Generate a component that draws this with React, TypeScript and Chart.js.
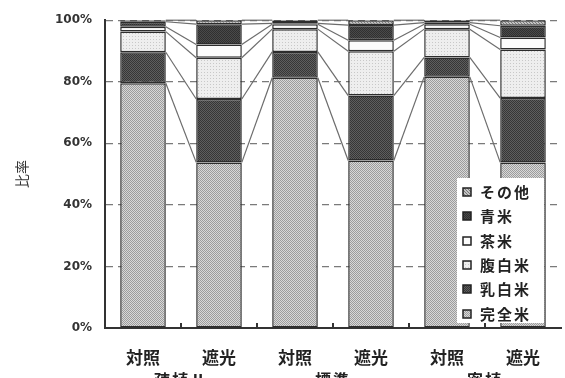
import { useEffect, useRef } from 'react';
import { Chart, registerables } from 'chart.js';

Chart.register(...registerables);

// Treatment under each bar, and the planting group under each pair
const categories = ['対照', '遮光', '対照', '遮光', '対照', '遮光'];
const groups = ['疎植Ⅱ', '標準', '密植'];

// Share of each grain class (%), stacked bottom to top
const seriesNames = ['完全米', '乳白米', '腹白米', '茶米', '青米', 'その他'];
const kanzenmai = [79.5, 53.8, 81.3, 54.4, 81.6, 53.8];
const nyuhakumai = [10.1, 20.6, 8.4, 21.1, 6.3, 20.9];
const fukuhakumai = [6.7, 13.4, 7.4, 14.4, 9.2, 15.8];
const chamai = [1.6, 4.3, 1.6, 3.6, 1.6, 3.9];
const aomai = [1.6, 6.6, 0.3, 4.9, 0.5, 3.8];
const sonota = [0.5, 1.3, 1.0, 1.6, 0.8, 1.8];

const yMin = 0;
const yMax = 100;
const yStep = 20;

const seriesValues = [kanzenmai, nyuhakumai, fukuhakumai, chamai, aomai, sonota];

const JP = '"Noto Sans CJK JP", "Noto Sans", sans-serif';

// small repeating tiles for the stippled fills: [size, background, dot colour, dot cells]
type Tile = { size: number; bg: string; fg: string; dots: [number, number][] };
const tiles: Tile[] = [
  { size: 2, bg: '#d8d8d8', fg: '#9c9c9c', dots: [[0, 0], [1, 1]] },
  { size: 2, bg: '#5e5e5e', fg: '#363636', dots: [[0, 0], [1, 1]] },
  { size: 3, bg: '#eeeeee', fg: '#c8c8c8', dots: [[0, 0]] },
  { size: 1, bg: '#fbfbfb', fg: '#fbfbfb', dots: [] },
  { size: 2, bg: '#4a4a4a', fg: '#303030', dots: [[0, 0], [1, 1]] },
  { size: 3, bg: '#c4c4c4', fg: '#7a7a7a', dots: [[0, 0], [1, 1], [2, 2]] },
];

function makeFill(t: Tile): CanvasPattern | string {
  const c = document.createElement('canvas');
  c.width = t.size;
  c.height = t.size;
  const g = c.getContext('2d');
  if (!g) return t.bg;
  g.fillStyle = t.bg;
  g.fillRect(0, 0, t.size, t.size);
  g.fillStyle = t.fg;
  t.dots.forEach(([x, y]) => g.fillRect(x, y, 1, 1));
  return g.createPattern(c, 'repeat') || t.bg;
}

const decorPlugin = {
  id: 'decor',
  afterDatasetsDraw(chart: any) {
    const { ctx, chartArea } = chart;
    ctx.save();
    // connecting lines between the tops of matching segments
    ctx.strokeStyle = '#6c6c6c';
    ctx.lineWidth = 1.2;
    chart.data.datasets.forEach((_: any, di: number) => {
      const meta = chart.getDatasetMeta(di);
      for (let i = 0; i < meta.data.length - 1; i++) {
        const a: any = meta.data[i];
        const b: any = meta.data[i + 1];
        ctx.beginPath();
        ctx.moveTo(a.x + a.width / 2, a.y);
        ctx.lineTo(b.x - b.width / 2, b.y);
        ctx.stroke();
      }
    });
    // inward ticks on the category axis
    const meta0 = chart.getDatasetMeta(0);
    ctx.strokeStyle = '#333';
    ctx.lineWidth = 2;
    for (let i = 0; i < meta0.data.length - 1; i++) {
      const x = Math.round((meta0.data[i].x + meta0.data[i + 1].x) / 2);
      ctx.beginPath();
      ctx.moveTo(x, chartArea.bottom);
      ctx.lineTo(x, chartArea.bottom - 5);
      ctx.stroke();
    }
    ctx.restore();
  },
  afterDraw(chart: any) {
    const { ctx } = chart;
    const meta0 = chart.getDatasetMeta(0);
    ctx.save();
    // group names under each pair of bars
    ctx.fillStyle = '#222';
    ctx.font = `bold 16px ${JP}`;
    ctx.textAlign = 'center';
    ctx.textBaseline = 'middle';
    (ctx as any).letterSpacing = '2px';
    groups.forEach((g, gi) => {
      const a = meta0.data[gi * 2];
      const b = meta0.data[gi * 2 + 1];
      ctx.fillText(g, (a.x + b.x) / 2, 380);
    });

    // legend box, top series first
    const box = { left: 457, top: 178, right: 544, bottom: 323 };
    ctx.fillStyle = '#ffffff';
    ctx.fillRect(box.left, box.top, box.right - box.left, box.bottom - box.top);
    ctx.font = `bold 15px ${JP}`;
    ctx.textAlign = 'left';
    ctx.textBaseline = 'middle';
    (ctx as any).letterSpacing = '2px';
    const order = chart.data.datasets.map((d: any, i: number) => i).reverse();
    order.forEach((di: number, row: number) => {
      const ds = chart.data.datasets[di];
      const y = Math.round(192 + row * 24.3);
      ctx.fillStyle = ds.backgroundColor;
      ctx.fillRect(463, y - 4, 8, 8);
      ctx.strokeStyle = '#222';
      ctx.lineWidth = 1.5;
      ctx.strokeRect(463, y - 4, 8, 8);
      ctx.fillStyle = '#222';
      ctx.fillText(ds.label, 480, y);
    });
    ctx.restore();
  },
};

export default function App() {
  const ref = useRef<HTMLCanvasElement>(null);

  useEffect(() => {
    if (!ref.current) return;
    const chart = new Chart(ref.current, {
      type: 'bar',
      data: {
        labels: categories,
        datasets: seriesNames.map((name, i) => ({
          label: name,
          data: seriesValues[i],
          backgroundColor: makeFill(tiles[i]) as any,
          borderColor: '#2c2c2c',
          borderWidth: 1.5,
          borderSkipped: false,
          barPercentage: 0.6,
          categoryPercentage: 1,
        })),
      },
      options: {
        animation: false,
        responsive: false,
        devicePixelRatio: 1,
        layout: { padding: { top: 16, right: 4, bottom: 0, left: 0 } },
        plugins: {
          legend: { display: false },
          tooltip: { enabled: false },
        },
        scales: {
          x: {
            stacked: true,
            grid: { display: false },
            border: { display: true, color: '#333', width: 2 },
            ticks: {
              color: '#222',
              font: { family: JP, size: 17, weight: 'bold' },
              padding: 11,
              autoSkip: false,
              maxRotation: 0,
            },
            afterFit: (scale: any) => {
              scale.height = 50;
            },
          },
          y: {
            stacked: true,
            min: yMin,
            max: yMax,
            ticks: {
              stepSize: yStep,
              color: '#333',
              padding: 13,
              font: { family: '"DejaVu Sans", sans-serif', size: 12, weight: 'bold' },
              callback: (v: any) => `${v}%`,
            },
            grid: { color: '#7a7a7a', lineWidth: 1.2, drawTicks: false },
            border: { display: true, color: '#333', width: 2, dash: [7, 5] },
            title: {
              display: true,
              text: '比率',
              color: '#333',
              font: { family: JP, size: 14 },
              padding: { top: 13, bottom: 0 },
            },
            afterFit: (scale: any) => {
              scale.width = 105;
            },
          },
        },
      },
      plugins: [decorPlugin],
    });
    return () => chart.destroy();
  }, []);

  return (
    <div style={{ position: 'fixed', left: 0, top: 0, width: 565, height: 378, background: '#fff' }}>
      <canvas ref={ref} width={565} height={378} />
    </div>
  );
}
